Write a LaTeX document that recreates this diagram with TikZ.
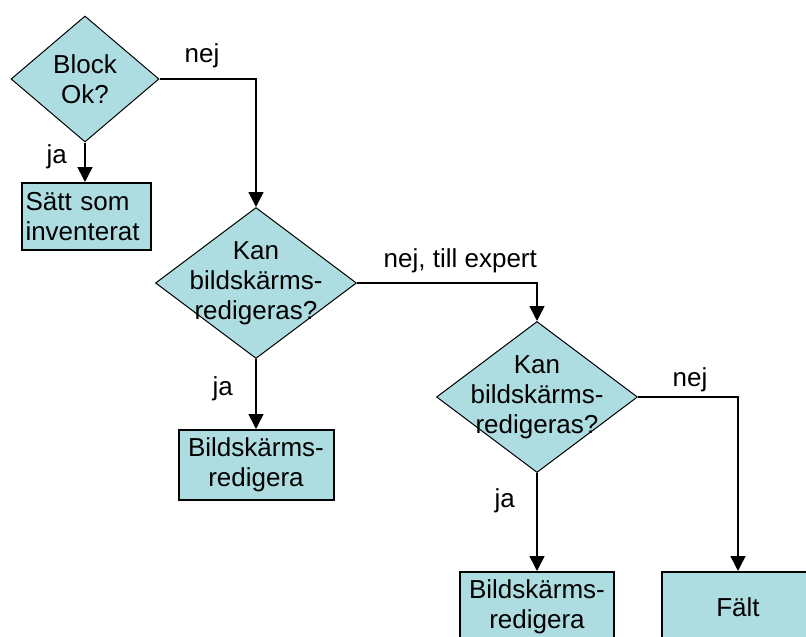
\documentclass[tikz,border=0pt]{standalone}
\usepackage{fontspec}
\setmainfont{Liberation Sans}
\usetikzlibrary{shapes.geometric, arrows.meta}
\definecolor{flowfill}{RGB}{174,221,225}
\tikzstyle{decision} = [diamond, aspect=1.33, inner sep=-14pt, minimum width=201pt, minimum height=151pt, align=center, draw=black, line width=1pt, fill=flowfill]
\tikzstyle{process} = [rectangle, minimum width=155pt, minimum height=70pt, align=center, draw=black, line width=2pt, fill=flowfill]
\tikzstyle{arrow} = [line width=1.5pt, -{Triangle[width=15pt,length=15pt]}]
\tikzstyle{answer} = [inner sep=3.33pt]

\begin{document}
\begin{tikzpicture}[x=1pt, y=-1pt, font=\fontsize{26}{30}\selectfont]
    \useasboundingbox (0,0) rectangle (806,637);
    % Place nodes
    \node (block) [decision, minimum width=148pt, minimum height=126pt, aspect=1.17] at (85,79) {Block\\Ok?};
    \node (inventory) [process, minimum width=129pt, minimum height=67pt, align=left, text width=122pt, inner xsep=3.5pt] at (86.5,216.5) {Sätt som\\inventerat};
    \node (screen) [decision] at (256,283) {Kan\\bildskärms-\\redigeras?};
    \node (edit) [process] at (256,465) {Bildskärms-\\redigera};
    \node (expert) [decision] at (537,397) {Kan\\bildskärms-\\redigeras?};
    \node (expertedit) [process, minimum width=154pt] at (537,607) {Bildskärms-\\redigera};
    \node (field) [process, minimum width=152pt] at (738,607) {Fält};

    % Connect nodes with arrows
    \draw [arrow] (block.south) -- node[answer, left=14pt, pos=0.35] {ja} (block.south |- inventory.north);
    \draw [arrow] (block.east) -| node[answer, above=7pt, pos=0.22] {nej} (screen.north);
    \draw [arrow] (screen.south) -- node[answer, left=19pt, pos=0.42] {ja} (edit.north);
    \draw [arrow] (screen.east) -| node[answer, above=6pt, pos=0.287] {nej, till expert} (expert.north);
    \draw [arrow] (expert.south) -- node[answer, left=18pt, pos=0.28] {ja} (expertedit.north);
    \draw [arrow] (expert.east) -| node[answer, above=1pt, pos=0.26] {nej} (field.north);
\end{tikzpicture}
\end{document}
